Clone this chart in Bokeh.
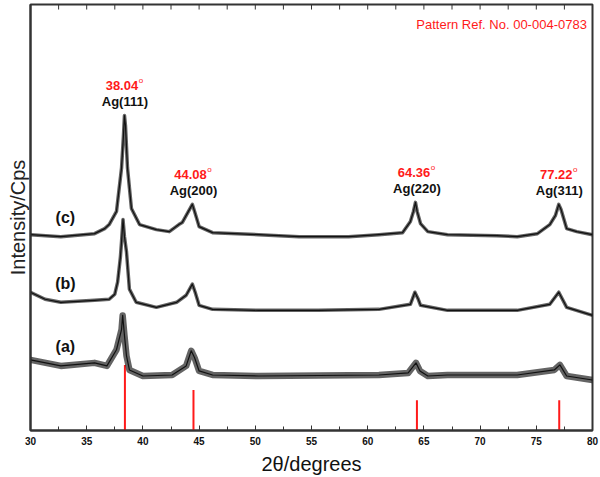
from bokeh.plotting import figure
from bokeh.models import Range1d, SingleIntervalTicker, FixedTicker, Label
from bokeh.embed import file_html
from bokeh.resources import INLINE

# ---- data (2theta in degrees, intensity in arbitrary units) ----
two_theta_c = [30.0, 32.7, 35.7, 36.6, 37.0, 37.65, 38.1, 38.27, 38.36, 38.45, 38.63, 38.98,
               39.7, 41.2, 42.35, 43.2, 43.5, 44.3, 44.4, 44.6, 45.0, 46.2, 50.3, 53.9, 58.3,
               61.0, 63.1, 63.8, 64.07, 64.25, 64.4, 64.7, 65.35, 67.1, 71.5, 73.3, 75.1, 76.2,
               76.7, 77.0, 77.2, 77.7, 78.6, 80.0]
intensity_c = [194, 192, 195, 200, 204, 217, 260, 292, 312, 302, 260, 220,
               204, 199, 197, 204, 206, 222, 224, 217, 202, 196, 194, 192, 192,
               194, 196, 207, 217, 226, 217, 205, 197, 194, 193, 192, 195, 204,
               213, 224, 219, 200, 197, 194]

two_theta_b = [30.0, 31.3, 32.7, 35.7, 37.0, 37.5, 37.75, 38.0, 38.1, 38.23, 38.36, 38.54,
               38.8, 39.4, 41.2, 43.0, 43.85, 44.4, 44.65, 45.0, 46.2, 50.3, 55.6, 61.0,
               63.8, 64.2, 64.5, 64.7, 67.1, 73.3, 76.2, 77.0, 77.7, 80.0]
intensity_b = [137, 130, 127, 129, 130, 135, 147, 172, 187, 209, 192, 177,
               140, 127, 122, 127, 134, 145, 137, 124, 120, 119, 119, 120,
               125, 137, 130, 124, 119, 119, 125, 137, 122, 114]

two_theta_a = [30.0, 32.7, 35.7, 36.8, 37.65, 38.1, 38.2, 38.36, 38.54, 38.8, 40.0, 42.6,
               43.85, 44.3, 44.6, 45.0, 46.2, 50.3, 61.0, 63.6, 64.3, 64.65, 65.35, 67.1,
               73.3, 76.6, 77.1, 77.7, 80.0]
intensity_a = [70, 64, 67, 64, 80, 100, 114, 94, 74, 60, 54, 55,
               64, 79, 72, 59, 55, 54, 55, 57, 67, 59, 54, 55,
               55, 60, 65, 54, 50]

sample_names = ["(a)", "(b)", "(c)"]

# reference pattern (Pattern Ref. No. 00-004-0783)
ref_pos = [38.4, 44.5, 64.38, 77.04]
ref_int = [65, 40, 30, 30]
peak_angles = ["38.04", "44.08", "64.36", "77.22"]
hkl_labels = ["Ag(111)", "Ag(200)", "Ag(220)", "Ag(311)"]
pattern_ref = "Pattern Ref. No. 00-004-0783"

FONT = "Liberation Sans"
RED = "#ff1a1a"
AX = "#333333"
X0, X1, Y0, Y1 = 30, 80, 0, 422

p = figure(width=600, height=477, output_backend="svg", toolbar_location=None,
           x_range=Range1d(X0, X1), y_range=Range1d(Y0, Y1),
           min_border_left=30, min_border_right=8, min_border_top=4, min_border_bottom=0)
p.grid.visible = False
p.background_fill_color = "white"
p.border_fill_color = "white"
p.outline_line_color = AX
p.outline_line_width = 2

# bottom axis
xa = p.xaxis[0]
xa.ticker = SingleIntervalTicker(interval=5, num_minor_ticks=2)
xa.major_tick_in = 5
xa.major_tick_out = 0
xa.minor_tick_in = 4
xa.minor_tick_out = 0
xa.axis_line_color = AX
xa.axis_line_width = 2
xa.major_tick_line_color = AX
xa.minor_tick_line_color = AX
xa.major_label_text_font = FONT
xa.major_label_text_font_style = "bold"
xa.major_label_text_font_size = "10px"
xa.major_label_text_color = "#111111"
xa.major_label_standoff = 6
xa.axis_label = "2θ/degrees"
xa.axis_label_text_font = FONT
xa.axis_label_text_font_style = "normal"
xa.axis_label_text_font_size = "20px"
xa.axis_label_text_color = "#111111"
xa.axis_label_standoff = 5

# left axis: no ticks
ya = p.yaxis[0]
ya.ticker = FixedTicker(ticks=[])
ya.major_tick_in = 0
ya.major_tick_out = 0
ya.minor_tick_in = 0
ya.minor_tick_out = 0
ya.axis_line_color = AX
ya.axis_line_width = 2
ya.axis_label = "Intensity/Cps"
ya.axis_label_text_font = FONT
ya.axis_label_text_font_style = "normal"
ya.axis_label_text_font_size = "20px"
ya.axis_label_text_color = "#222222"
ya.axis_label_standoff = 2
ya.major_label_standoff = 0

# inward ticks along the top edge (every 2.5 degrees, like the bottom axis ticks)
top_ticks = [X0 + 2.5 * i for i in range(int((X1 - X0) / 2.5) + 1)]
tick_len = 5 * (Y1 - Y0) / 423.0
p.segment(x0=top_ticks, y0=[Y1] * len(top_ticks), x1=top_ticks,
          y1=[Y1 - tick_len] * len(top_ticks), line_color=AX, line_width=1)

# reference stick pattern
p.segment(x0=ref_pos, y0=[0] * len(ref_pos), x1=ref_pos, y1=ref_int,
          line_color=RED, line_width=2)

# traces: dark fuzzy band + core
traces = [(two_theta_a, intensity_a, 6.5), (two_theta_b, intensity_b, 3.5), (two_theta_c, intensity_c, 3.5)]
for xs, ys, w in traces:
    p.line(xs, ys, line_color="#222222", line_width=w, line_alpha=0.7, line_join="round")
    p.line(xs, ys, line_color="#111111", line_width=1.2, line_join="round")

# sample labels, placed just above each trace near 33 degrees
for name, (xs, ys, w) in zip(sample_names, traces):
    near = min(range(len(xs)), key=lambda i: abs(xs[i] - 33.1))
    p.add_layout(Label(x=33.1, y=ys[near] + 19, text=name, text_align="center",
                       text_baseline="middle", text_font=FONT, text_font_style="bold",
                       text_font_size="16px", text_color="#111111"))

# peak annotations above trace (c)
for pos, ang, hkl in zip(ref_pos, peak_angles, hkl_labels):
    local = [y for x, y in zip(two_theta_c, intensity_c) if abs(x - pos) < 0.8]
    ytop = max(local)
    p.add_layout(Label(x=pos, y=ytop + 14, text=hkl, text_align="center", text_baseline="middle",
                       text_font=FONT, text_font_style="bold", text_font_size="13px",
                       text_color="#111111"))
    p.add_layout(Label(x=pos, y=ytop + 30, x_offset=-3, text=ang, text_align="center",
                       text_baseline="middle", text_font=FONT, text_font_style="bold",
                       text_font_size="13px", text_color=RED))
    p.add_layout(Label(x=pos, y=ytop + 30, x_offset=16, y_offset=5, text="o",
                       text_align="center", text_baseline="middle", text_font=FONT,
                       text_font_size="8px", text_color=RED))

p.add_layout(Label(x=79.5, y=402, text=pattern_ref, text_align="right", text_baseline="middle",
                   text_font=FONT, text_font_size="13px", text_color=RED))

open("out.html", "w").write(file_html(p, INLINE))
